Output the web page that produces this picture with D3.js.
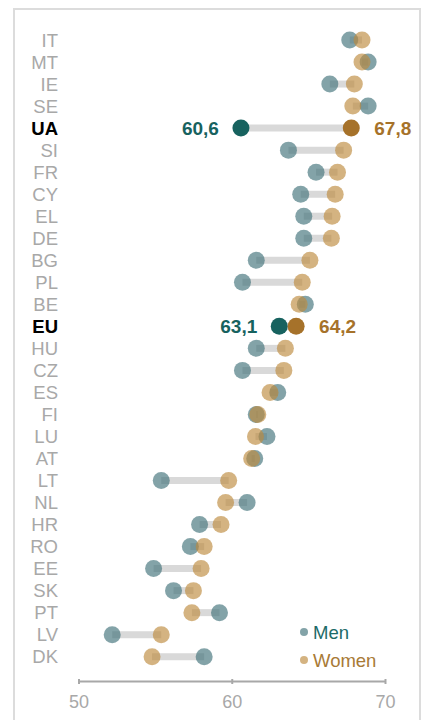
<!DOCTYPE html>
<html>
<head>
<meta charset="utf-8">
<script src="https://cdn.jsdelivr.net/npm/d3@7"></script>
<style>
  html, body { margin: 0; padding: 0; background: #fff; }
  svg { display: block; font-family: "Liberation Sans", Arial, sans-serif; }
</style>
</head>
<body>
<svg id="chart" width="422" height="720"></svg>
<script>
// Healthy life years at 65 (approx.) by country, men vs women
const countries = ["IT","MT","IE","SE","UA","SI","FR","CY","EL","DE","BG","PL","BE","EU",
  "HU","CZ","ES","FI","LU","AT","LT","NL","HR","RO","EE","SK","PT","LV","DK"];
const men   = [67.7,68.9,66.4,68.9,60.6,63.7,65.5,64.5,64.7,64.7,61.6,60.7,64.8,63.1,
  61.6,60.7,63.0,61.6,62.3,61.5,55.4,61.0,57.9,57.3,54.9,56.2,59.2,52.2,58.2];
const women = [68.5,68.5,68.0,67.9,67.8,67.3,66.9,66.75,66.55,66.5,65.1,64.6,64.4,64.2,
  63.5,63.4,62.5,61.7,61.55,61.3,59.8,59.6,59.3,58.2,58.0,57.5,57.4,55.4,54.8];
const highlighted = ["UA","EU"];
const xTicks = [50, 60, 70];
const seriesNames = ["Men", "Women"];

const fmt = v => d3.format(".1f")(v).replace(".", ",");

const svg = d3.select("#chart");

// frame
svg.append("rect")
  .attr("x", 14).attr("y", 9)
  .attr("width", 406).attr("height", 720)
  .attr("fill", "none").attr("stroke", "#dcdcdc").attr("stroke-width", 2);

const x = d3.scaleLinear().domain([50, 70]).range([78.5, 385]);
const y = d3.scalePoint().domain(countries).range([40, 656.7]);

const rows = countries.map((c, i) => ({ c, m: men[i], w: women[i], hi: highlighted.includes(c) }));

// connectors
svg.append("g").selectAll("line").data(rows).join("line")
  .attr("x1", d => x(d.m)).attr("x2", d => x(d.w))
  .attr("y1", d => y(d.c)).attr("y2", d => y(d.c))
  .attr("stroke", "#d9d9d9").attr("stroke-width", 7);

const R = 8.5;
const menFaint = "#40717a", womenFaint = "#bd8a3e";
const menSolid = "#17625f", womenSolid = "#a6722a";
const faintOpacity = 0.65;

// men dots
svg.append("g").selectAll("circle").data(rows).join("circle")
  .attr("cx", d => x(d.m)).attr("cy", d => y(d.c)).attr("r", R)
  .attr("fill", d => d.hi ? menSolid : menFaint)
  .attr("fill-opacity", d => d.hi ? 1 : faintOpacity);

// women dots
svg.append("g").selectAll("circle").data(rows).join("circle")
  .attr("cx", d => x(d.w)).attr("cy", d => y(d.c)).attr("r", R)
  .attr("fill", d => d.hi ? womenSolid : womenFaint)
  .attr("fill-opacity", d => d.hi ? 1 : faintOpacity);

// category labels
svg.append("g").selectAll("text").data(rows).join("text")
  .attr("x", 58).attr("y", d => y(d.c)).attr("dy", "0.36em")
  .attr("text-anchor", "end")
  .attr("font-size", 18.5)
  .attr("font-weight", d => d.hi ? "bold" : "normal")
  .attr("fill", d => d.hi ? "#000" : "#a8a8a8")
  .text(d => d.c);

// value labels for highlighted rows
const hiRows = rows.filter(d => d.hi);
svg.append("g").selectAll("text").data(hiRows).join("text")
  .attr("x", d => x(d.m) - 22).attr("y", d => y(d.c)).attr("dy", "0.36em")
  .attr("text-anchor", "end").attr("font-size", 19).attr("font-weight", "bold")
  .attr("fill", menSolid).text(d => fmt(d.m));
svg.append("g").selectAll("text").data(hiRows).join("text")
  .attr("x", d => x(d.w) + 23).attr("y", d => y(d.c)).attr("dy", "0.36em")
  .attr("text-anchor", "start").attr("font-size", 19).attr("font-weight", "bold")
  .attr("fill", womenSolid).text(d => fmt(d.w));

// axis
const axis = svg.append("g").attr("transform", "translate(0,681)")
  .call(d3.axisBottom(x).tickValues(xTicks).tickSizeInner(3).tickSizeOuter(0).tickPadding(11));
axis.select(".domain").attr("stroke", "#a8a8a8").attr("stroke-width", 2);
axis.selectAll(".tick line").attr("stroke", "#a8a8a8").attr("stroke-width", 2).attr("y1", -2);
axis.selectAll(".tick text").attr("fill", "#a8a8a8").attr("font-size", 18)
  .attr("font-family", "'Liberation Sans', Arial, sans-serif");

// legend
const legend = svg.append("g");
const legendItems = [
  { name: seriesNames[0], dot: menFaint, text: "#1c6b68", y: 632 },
  { name: seriesNames[1], dot: womenFaint, text: "#a87a36", y: 660 }
];
legend.selectAll("circle").data(legendItems).join("circle")
  .attr("cx", 304).attr("cy", d => d.y).attr("r", 4)
  .attr("fill", d => d.dot).attr("fill-opacity", faintOpacity);
legend.selectAll("text").data(legendItems).join("text")
  .attr("x", 313).attr("y", d => d.y).attr("dy", "0.36em")
  .attr("font-size", 18.5).attr("fill", d => d.text).text(d => d.name);
</script>
</body>
</html>
